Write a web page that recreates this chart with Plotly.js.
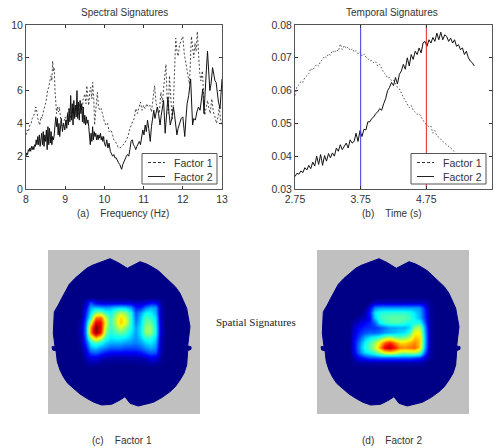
<!DOCTYPE html>
<html><head><meta charset="utf-8">
<script src="https://cdn.plot.ly/plotly-3.0.1.min.js"></script>
<style>html,body{margin:0;padding:0;background:#fff}</style></head>
<body><div id="chart" style="width:502px;height:448px"></div>
<script>
const seriesNames = ['Factor 1','Factor 2'];
const spectralF1x = [8,8.03,8.06,8.1,8.13,8.16,8.2,8.23,8.25,8.28,
8.3,8.33,8.35,8.38,8.41,8.45,8.48,8.51,8.55,8.58,
8.61,8.64,8.66,8.68,8.7,8.72,8.74,8.76,8.78,8.8,
8.83,8.85,8.88,8.9,8.93,8.96,9,9.03,9.06,9.1,
9.13,9.16,9.2,9.23,9.26,9.3,9.33,9.36,9.4,9.43,
9.46,9.5,9.53,9.55,9.58,9.6,9.63,9.65,9.68,9.7,
9.73,9.75,9.78,9.82,9.85,9.88,9.92,9.96,10,10.04,
10.08,10.12,10.16,10.2,10.24,10.28,10.32,10.36,10.4,10.44,
10.48,10.52,10.56,10.6,10.64,10.68,10.72,10.76,10.8,10.84,
10.88,10.92,10.96,11,11.04,11.08,11.12,11.16,11.2,11.24,
11.28,11.32,11.36,11.4,11.44,11.48,11.52,11.57,11.6,11.63,
11.66,11.7,11.73,11.76,11.79,11.82,11.85,11.88,11.92,11.96,
12,12.04,12.08,12.12,12.17,12.22,12.25,12.28,12.31,12.34,
12.37,12.4,12.43,12.46,12.5,12.53,12.56,12.6,12.63,12.66,
12.7,12.74,12.78,12.82,12.86,12.9,12.93,12.96,13];
const spectralF1y = [3.3,3.6,3.5,3.9,4.0,4.3,4.5,4.7,5.0,4.7,
4.3,4.0,3.9,4.4,4.3,4.8,5.1,5.3,6.0,6.2,
6.6,6.9,6.6,7.8,7.2,7.4,6.0,5.2,4.6,5.0,
4.7,5.0,4.4,4.0,3.8,4.1,4.4,3.9,4.6,4.9,
4.3,4.7,5.0,4.5,5.1,4.9,4.5,5.2,5.0,4.8,
5.5,5.8,5.2,6.3,5.6,5.1,6.0,6.2,5.5,6.5,
5.4,3.9,4.8,5.9,5.0,4.8,4.9,4.4,4.1,3.9,
4.0,3.5,3.6,3.4,3.0,2.9,2.7,2.5,2.5,2.6,
2.7,2.8,3.0,3.2,3.6,3.9,4.1,4.3,4.9,4.6,
5.0,5.3,4.8,5.1,4.9,5.2,5.0,5.1,4.7,5.4,
6.3,5.2,4.9,4.6,5.9,5.3,6.4,7.6,5.6,4.6,
6.9,5.6,4.2,5.2,7.4,9.2,8.4,8.1,8.8,9.1,
9.3,8.2,7.6,6.9,6.4,9.3,8.7,8.0,8.9,8.4,
9.6,8.2,7.1,6.6,7.2,5.8,4.5,5.0,5.4,5.0,
4.6,5.5,4.7,4.4,4.0,4.4,5.0,4.3,3.9];
const spectralF2x = [8,8.02,8.04,8.06,8.08,8.1,8.12,8.14,8.16,8.18,
8.2,8.22,8.24,8.26,8.28,8.3,8.32,8.34,8.36,8.38,
8.4,8.42,8.44,8.46,8.48,8.5,8.52,8.54,8.56,8.58,
8.6,8.62,8.64,8.66,8.68,8.7,8.72,8.74,8.76,8.78,
8.8,8.82,8.84,8.86,8.88,8.9,8.93,8.96,8.99,9.02,
9.04,9.06,9.08,9.1,9.12,9.14,9.16,9.18,9.2,9.22,
9.24,9.26,9.28,9.3,9.32,9.34,9.36,9.38,9.4,9.42,
9.44,9.46,9.48,9.5,9.52,9.54,9.56,9.58,9.6,9.62,
9.64,9.66,9.68,9.7,9.72,9.74,9.76,9.78,9.8,9.82,
9.84,9.86,9.88,9.9,9.92,9.94,9.96,9.98,10,10.03,
10.06,10.09,10.12,10.15,10.18,10.21,10.24,10.27,10.3,10.33,
10.36,10.39,10.42,10.44,10.47,10.5,10.53,10.56,10.59,10.62,
10.65,10.68,10.71,10.74,10.77,10.8,10.83,10.86,10.89,10.92,
10.95,10.98,11.01,11.04,11.07,11.1,11.13,11.17,11.2,11.23,
11.26,11.29,11.32,11.35,11.38,11.42,11.45,11.48,11.51,11.55,
11.58,11.62,11.65,11.68,11.72,11.76,11.79,11.82,11.85,11.88,
11.92,11.96,12,12.03,12.05,12.08,12.11,12.15,12.18,12.2,
12.23,12.25,12.28,12.32,12.36,12.4,12.44,12.48,12.51,12.54,
12.57,12.6,12.63,12.66,12.69,12.72,12.76,12.79,12.82,12.85,
12.88,12.91,12.95,12.98,13];
const spectralF2y = [2.0,2.2,2.1,2.4,2.3,2.5,2.3,2.6,2.4,2.6,
2.4,2.7,2.6,3.0,2.7,3.2,2.7,3.3,2.6,3.1,
3.4,2.7,3.5,2.6,3.3,2.9,3.6,2.4,3.8,2.7,
3.7,2.8,3.5,2.7,3.2,3.0,3.3,3.9,4.4,3.8,
4.3,3.3,4.0,3.2,3.9,4.3,3.5,4.0,3.6,4.2,
3.7,4.6,3.9,4.9,4.1,5.7,4.2,5.2,3.9,5.4,
4.3,5.1,4.4,6.0,4.3,5.3,4.2,5.4,4.6,5.2,
4.1,5.0,4.0,4.5,3.9,4.4,4.0,4.2,3.8,3.2,
2.7,3.4,2.9,3.8,3.0,3.5,3.2,3.4,3.0,3.3,
3.0,3.3,3.1,3.4,3.0,3.2,2.9,3.2,2.8,2.6,
3.0,2.5,2.8,2.3,2.1,2.0,2.1,1.9,1.9,1.7,
1.6,1.5,1.3,1.2,1.5,1.7,1.9,2.0,2.1,2.0,
2.4,2.9,3.0,2.7,2.6,2.4,2.6,2.8,2.9,2.7,
3.2,3.6,3.3,3.9,3.5,4.2,3.7,2.9,3.8,4.4,
4.8,4.3,4.7,5.0,4.6,3.9,4.5,5.1,5.4,3.4,
4.3,5.6,4.6,3.9,4.3,5.0,4.5,4.0,3.3,3.7,
4.0,4.3,4.4,3.7,3.2,4.3,5.2,5.7,6.3,6.7,
5.0,3.9,4.3,4.2,4.7,5.0,4.8,5.7,6.1,4.6,
5.6,7.2,8.4,7.4,6.0,6.4,7.4,7.0,6.6,6.5,
5.9,5.3,4.9,5.8,6.7];
const timeS = [2.75,2.78,2.81,2.84,2.87,2.9,2.93,2.96,2.99,3.02,
3.05,3.08,3.11,3.14,3.17,3.2,3.23,3.26,3.29,3.32,
3.35,3.38,3.41,3.44,3.47,3.5,3.53,3.56,3.59,3.62,
3.65,3.68,3.71,3.74,3.77,3.8,3.83,3.86,3.89,3.92,
3.95,3.98,4.01,4.04,4.07,4.1,4.13,4.16,4.19,4.22,
4.25,4.28,4.31,4.34,4.37,4.4,4.43,4.46,4.49,4.52,
4.55,4.58,4.61,4.64,4.67,4.7,4.73,4.76,4.79,4.82,
4.85,4.88,4.91,4.94,4.97,5,5.03,5.06,5.09,5.12,
5.15,5.18,5.21,5.24,5.27,5.3,5.33,5.36,5.39,5.42,
5.45,5.48];
const temporalF1 = [.0585,.0612,.0618,.0628,.0625,.0640,.0645,.0652,.0668,.0662,
.0672,.0680,.0675,.0690,.0695,.0705,.0700,.0712,.0708,.0722,
.0715,.0725,.0720,.0742,.0725,.0738,.0728,.0733,.0722,.0728,
.0718,.0722,.0712,.0718,.0706,.0712,.0702,.0698,.0690,.0692,
.0684,.0688,.0675,.0680,.0668,.0655,.0650,.0638,.0640,.0630,
.0632,.0622,.0610,.0605,.0590,.0580,.0570,.0560,.0548,.0555,
.0540,.0535,.0528,.0530,.0518,.0510,.0500,.0495,.0490,.0492,
.0470,.0478,.0462,.0458,.0450,.0445,.0440,.0435,.0430,.0425,
.0420,.0412,.0405,.0400];
const temporalF2 = [.0338,.0348,.0345,.0355,.0350,.0365,.0358,.0372,.0362,.0382,
.0370,.0400,.0375,.0405,.0372,.0402,.0385,.0408,.0395,.0410,
.0400,.0425,.0415,.0435,.0420,.0432,.0440,.0425,.0450,.0440,
.0445,.0470,.0445,.0478,.0460,.0482,.0480,.0505,.0505,.0515,
.0520,.0530,.0535,.0545,.0540,.0560,.0575,.0600,.0610,.0625,
.0615,.0640,.0620,.0650,.0660,.0680,.0665,.0700,.0675,.0710,
.0695,.0720,.0710,.0730,.0715,.0745,.0750,.0735,.0755,.0745,
.0762,.0750,.0775,.0755,.0778,.0755,.0770,.0765,.0750,.0760,
.0745,.0755,.0735,.0740,.0725,.0730,.0710,.0720,.0700,.0690,
.0685,.0675];
const markerTimes = [3.75,4.75];
const markerColors = ['#3a3ae0','#e02020'];
const headX = [62,50.3,44.3,38.7,32.7,27,21.3,17,13.7,10.3,6.3,5.3,7,4,4.7,8,9.3,12,15.3,19.7,25.3,32,38.7,46,53.7,63.7,72,77,82,90.3,105.3,114.3,122,127.3,132,136,138.7,139.7,143,143,139.7,142,138.7,135.3,132,127.3,122,116,110.3,104.7,98.7,92,79.3,70.3,62];
const headY = [8.7,12.7,15.3,18.3,23.3,28.3,34.3,41.7,48.3,55,61.7,83.3,96.7,96.7,100,100.7,111.7,120,126.7,133.3,138.3,144,148.3,152.3,155,154.3,150,146.7,153.3,156,152.3,147.3,141.7,136.7,130,123.3,115,100.7,99.3,96.7,96,76.7,58.3,50.7,43.3,36.7,31.7,25.7,20.7,17.3,14,11.7,18.3,12.7,8.7];
const gridX = [32,37,42,47,52,57,62,67,72,77,82,87,92,97,102,107,112,117];
const gridY = [47,52,57,62,67,72,77,82,87,92,97,102,107,112,117];
const mapFactor1 = [
[0,0,0,0,0,0,0,0,0,0,0,0,0,0,0,0,0,0],
[0,.06,.2,.1,.08,.08,.08,.08,.08,.08,.08,.06,.06,.08,.12,.12,.03,0],
[0,.1,.3,.32,.3,.28,.3,.33,.35,.33,.28,.15,.15,.25,.3,.28,.05,0],
[0,.15,.35,.5,.52,.42,.38,.48,.55,.5,.4,.2,.28,.38,.37,.3,.05,0],
[0,.18,.42,.75,.78,.55,.42,.55,.66,.58,.42,.22,.32,.45,.42,.34,.06,0],
[.02,.22,.6,.9,.88,.6,.42,.55,.68,.6,.42,.25,.34,.48,.48,.36,.06,0],
[.03,.25,.75,1,.9,.55,.42,.5,.58,.5,.4,.28,.36,.52,.52,.38,.07,0],
[.03,.25,.75,1,.85,.5,.4,.45,.47,.44,.36,.28,.36,.52,.52,.38,.07,0],
[.02,.22,.55,.7,.6,.42,.36,.38,.38,.36,.32,.27,.33,.42,.42,.34,.06,0],
[.02,.17,.38,.45,.4,.33,.3,.3,.3,.28,.27,.25,.28,.34,.36,.3,.05,0],
[.01,.12,.3,.33,.28,.25,.22,.22,.22,.2,.2,.2,.22,.27,.3,.26,.05,0],
[0,.08,.2,.22,.18,.14,.12,.12,.12,.12,.12,.12,.14,.18,.22,.2,.04,0],
[0,.05,.1,.1,.07,.05,.04,.04,.04,.04,.04,.04,.05,.07,.1,.1,.02,0],
[0,.02,.04,.04,.02,.01,.01,.01,.01,.01,.01,.01,.01,.02,.04,.04,.01,0],
[0,0,0,0,0,0,0,0,0,0,0,0,0,0,0,0,0,0]];
const mapFactor2 = [
[0,0,0,0,0,0,0,0,0,0,0,0,0,0,0,0,0,0],
[0,0,0,0,0,.06,.06,.06,.06,.06,.06,.06,.06,.06,.06,.06,.01,0],
[0,0,0,0,.1,.25,.28,.28,.28,.28,.28,.28,.28,.28,.27,.15,.02,0],
[0,0,0,.03,.15,.35,.4,.42,.42,.42,.42,.42,.4,.35,.3,.17,.03,0],
[0,0,.03,.06,.12,.33,.42,.45,.46,.47,.47,.46,.44,.37,.3,.18,.03,0],
[0,.04,.08,.12,.15,.22,.37,.42,.44,.45,.44,.42,.38,.4,.4,.22,.03,0],
[0,.08,.13,.16,.17,.17,.2,.24,.28,.28,.3,.3,.34,.52,.55,.28,.04,0],
[0,.1,.16,.2,.22,.22,.24,.28,.3,.32,.34,.36,.44,.62,.62,.3,.04,0],
[0,.12,.2,.3,.36,.4,.44,.52,.56,.5,.48,.5,.56,.68,.66,.32,.04,0],
[0,.14,.25,.37,.44,.52,.64,.78,.84,.76,.66,.66,.7,.74,.68,.32,.04,0],
[0,.14,.27,.4,.46,.56,.72,.9,.95,.86,.76,.74,.76,.78,.66,.3,.04,0],
[0,.12,.24,.34,.38,.44,.52,.6,.62,.6,.54,.52,.54,.54,.48,.22,.03,0],
[0,.06,.12,.16,.2,.2,.22,.22,.22,.22,.22,.22,.22,.2,.18,.1,.02,0],
[0,.02,.03,.03,.03,.03,.03,.03,.03,.03,.03,.03,.03,.03,.03,.02,0,0],
[0,0,0,0,0,0,0,0,0,0,0,0,0,0,0,0,0,0]];

const W=502,H=448;
const dx=(a,b)=>[a/W,b/W], dy=(t,b)=>[1-b/H,1-t/H];
const base='#000086';
const jet=[[0,base],[.125,'#0000ff'],[.375,'#00ffff'],[.625,'#ffff00'],[.875,'#ff0000'],[1,'#800000']];
const fnt='"Liberation Sans",Arial,sans-serif', ink='#333';
const dash={color:'#333',width:.9,dash:'2px,2px'}, dots={color:'#444',width:.9,dash:'1.5px,2px'}, solid={color:'#111',width:1};
const headTrace=(xa,ya)=>({x:headX,y:headY,mode:'lines',fill:'toself',fillcolor:base,line:{color:base,width:1},xaxis:xa,yaxis:ya});
const traces=[
 {x:spectralF1x,y:spectralF1y,name:seriesNames[0],mode:'lines',line:dash,xaxis:'x',yaxis:'y'},
 {x:spectralF2x,y:spectralF2y,name:seriesNames[1],mode:'lines',line:solid,xaxis:'x',yaxis:'y'},
 {x:timeS,y:temporalF1,name:seriesNames[0],mode:'lines',line:dots,xaxis:'x2',yaxis:'y2'},
 {x:timeS,y:temporalF2,name:seriesNames[1],mode:'lines',line:solid,xaxis:'x2',yaxis:'y2'},
 {x:[markerTimes[0],markerTimes[0]],y:[.03,.08],mode:'lines',line:{color:markerColors[0],width:1},xaxis:'x2',yaxis:'y2'},
 {x:[markerTimes[1],markerTimes[1]],y:[.03,.08],mode:'lines',line:{color:markerColors[1],width:1},xaxis:'x2',yaxis:'y2'},
 headTrace('x3','y3'),
 headTrace('x4','y4'),
 {type:'heatmap',x:gridX,y:gridY,z:mapFactor1,zmin:0,zmax:1,colorscale:jet,zsmooth:'best',showscale:false,xaxis:'x5',yaxis:'y5'},
 {type:'heatmap',x:gridX,y:gridY,z:mapFactor2,zmin:0,zmax:1,colorscale:jet,zsmooth:'best',showscale:false,xaxis:'x6',yaxis:'y6'}
];
const frame={showline:true,mirror:'allticks',linecolor:'#555',linewidth:1,ticks:'inside',ticklen:3,tickcolor:'#333',tickwidth:1,showgrid:false,zeroline:false,tickfont:{family:fnt,size:10.5,color:ink}};
const hidden={showline:false,showticklabels:false,ticks:'',showgrid:false,zeroline:false};
const nb=s=>s.replace(/ /g,'\u00a0');
const note=(t,x,y,extra)=>Object.assign({text:t,xref:'paper',yref:'paper',x:x/W,y:1-y/H,showarrow:false,xanchor:'center',yanchor:'middle',font:{family:fnt,size:10,color:ink}},extra||{});
const pline=(x0,x1,y,ln)=>({type:'line',xref:'paper',yref:'paper',x0:x0/W,x1:x1/W,y0:1-y/H,y1:1-y/H,line:ln,layer:'above'});
const legendShapes=(l,r,t,b)=>[
 {type:'rect',xref:'paper',yref:'paper',x0:l/W,x1:r/W,y0:1-b/H,y1:1-t/H,fillcolor:'#fff',line:{color:'#555',width:1},layer:'above'},
 pline(l+6,l+23,t+9,{color:'#333',width:1,dash:'3px,2px'}),
 pline(l+6,l+23,t+23,{color:'#222',width:1})];
const legendNotes=(l,t)=>[
 note(seriesNames[0],l+30,t+9,{xanchor:'left',font:{family:fnt,size:10.5,color:ink}}),
 note(seriesNames[1],l+30,t+23,{xanchor:'left',font:{family:fnt,size:10.5,color:ink}})];
const layout={
 width:W,height:H,autosize:false,showlegend:false,margin:{l:0,r:0,t:0,b:0},paper_bgcolor:'#fff',plot_bgcolor:'#fff',
 xaxis:Object.assign({},frame,{domain:dx(26,222),range:[8,13],tickvals:[8,9,10,11,12,13],anchor:'y'}),
 yaxis:Object.assign({},frame,{domain:dy(25,189),range:[0,10],tickvals:[0,2,4,6,8,10],anchor:'x'}),
 xaxis2:Object.assign({},frame,{domain:dx(295,492),range:[2.75,5.75],tickvals:[2.75,3.75,4.75,5.75],ticktext:['2.75','3.75','4.75','5.75'],anchor:'y2'}),
 yaxis2:Object.assign({},frame,{domain:dy(25,189),range:[.03,.08],tickvals:[.03,.04,.05,.06,.07,.08],tickformat:'.2f',anchor:'x2'}),
 xaxis3:Object.assign({},hidden,{domain:dx(48,200),range:[0,152],anchor:'y3'}),
 yaxis3:Object.assign({},hidden,{domain:dy(250,414),range:[164,0],anchor:'x3'}),
 xaxis4:Object.assign({},hidden,{domain:dx(317,469),range:[0,152],anchor:'y4'}),
 yaxis4:Object.assign({},hidden,{domain:dy(250,414),range:[164,0],anchor:'x4'}),
 xaxis5:Object.assign({},hidden,{overlaying:'x3',range:[0,152],anchor:'y5'}),
 yaxis5:Object.assign({},hidden,{overlaying:'y3',range:[164,0],anchor:'x5'}),
 xaxis6:Object.assign({},hidden,{overlaying:'x4',range:[0,152],anchor:'y6'}),
 yaxis6:Object.assign({},hidden,{overlaying:'y4',range:[164,0],anchor:'x6'}),
 shapes:[
  {type:'rect',xref:'x3',yref:'y3',x0:0,x1:152,y0:0,y1:164,fillcolor:'#c0c0c0',line:{width:0},layer:'below'},
  {type:'rect',xref:'x4',yref:'y4',x0:0,x1:152,y0:0,y1:164,fillcolor:'#c0c0c0',line:{width:0},layer:'below'},
  ...legendShapes(142,217,153.5,184),
  ...legendShapes(411,486,153.5,184)
 ],
 annotations:[
  note('Spectral Signatures',124,13),
  note('Temporal Signatures',392,13),
  note(nb('(a)    Frequency (Hz)'),123,213),
  note(nb('(b)    Time (s)'),392,213),
  note('Spatial Signatures',256,322,{font:{family:'"Liberation Serif",serif',size:11,color:'#222'}}),
  note(nb('(c)    Factor 1'),122,440),
  note(nb('(d)    Factor 2'),392,440),
  ...legendNotes(142,153.5),
  ...legendNotes(411,153.5)
 ]
};
Plotly.newPlot('chart',traces,layout,{staticPlot:true,displayModeBar:false});
</script></body></html>
